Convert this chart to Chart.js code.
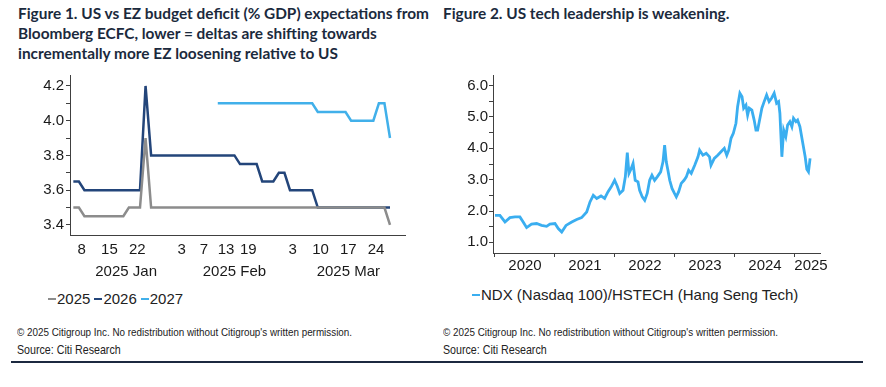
<!DOCTYPE html>
<html>
<head>
<meta charset="utf-8">
<script src="https://cdn.jsdelivr.net/npm/chart.js@4.4.1/dist/chart.umd.min.js"></script>
<style>
body { margin: 0; width: 886px; height: 387px; background: #fff; position: relative; overflow: hidden; font-family: 'Liberation Sans', Arial, sans-serif; }
.title { position: absolute; font-family: Lato, sans-serif; font-weight: 700; font-size: 15.4px; line-height: 20px; color: #1b2a3d; white-space: nowrap; }
.box { position: absolute; }
.legend { position: absolute; font-size: 15px; line-height: 18px; color: #222; white-space: nowrap; display: flex; align-items: center; }
.legend .item { display: inline-flex; align-items: center; margin-right: 4px; }
.legend .dash { display: inline-block; width: 8px; height: 2.5px; margin-right: 1px; }
.foot { position: absolute; font-family: 'Liberation Sans', Arial, sans-serif; color: #222; white-space: nowrap; transform-origin: 0 50%; }
.copy { font-size: 11.6px; transform: scaleX(0.85); }
.src { font-size: 13px; transform: scaleX(0.82); }
.rule { position: absolute; left: 11px; top: 361px; width: 852px; height: 2px; background: #1c2940; }
</style>
</head>
<body>

<div class="title" style="left:18px; top:3px;">Figure 1. US vs EZ budget deficit (% GDP) expectations from<br>Bloomberg ECFC, lower = deltas are shifting towards<br>incrementally more EZ loosening relative to US</div>
<div class="title" style="left:443px; top:3px;">Figure 2. US tech leadership is weakening.</div>

<div class="box" style="left:0; top:60px; width:440px; height:230px;"><canvas id="budget"></canvas></div>
<div class="box" style="left:440px; top:60px; width:446px; height:220px;"><canvas id="tech"></canvas></div>

<div class="legend" id="legend1" style="left:48px; top:290px;"></div>
<div class="legend" id="legend2" style="left:472px; top:286px;"></div>

<div class="foot copy" style="left:17px; top:325px;">© 2025 Citigroup Inc. No redistribution without Citigroup's written permission.</div>
<div class="foot src" style="left:17px; top:342px;">Source: Citi Research</div>
<div class="foot copy" style="left:443px; top:325px;">© 2025 Citigroup Inc. No redistribution without Citigroup's written permission.</div>
<div class="foot src" style="left:443px; top:342px;">Source: Citi Research</div>
<div class="rule"></div>

<script>
// Figure 1 data - business days, Bloomberg ECFC deficit expectations
const leftDates = [
  '2025-01-07','2025-01-08','2025-01-09','2025-01-10','2025-01-13','2025-01-14','2025-01-15','2025-01-16','2025-01-17','2025-01-20',
  '2025-01-21','2025-01-22','2025-01-23','2025-01-24','2025-01-27','2025-01-28','2025-01-29','2025-01-30','2025-01-31',
  '2025-02-03','2025-02-04','2025-02-05','2025-02-06','2025-02-07','2025-02-10','2025-02-11','2025-02-12','2025-02-13','2025-02-14',
  '2025-02-17','2025-02-18','2025-02-19','2025-02-20','2025-02-21','2025-02-24','2025-02-25','2025-02-26','2025-02-27','2025-02-28',
  '2025-03-03','2025-03-04','2025-03-05','2025-03-06','2025-03-07','2025-03-10','2025-03-11','2025-03-12','2025-03-13','2025-03-14',
  '2025-03-17','2025-03-18','2025-03-19','2025-03-20','2025-03-21','2025-03-24','2025-03-25','2025-03-26','2025-03-27','2025-03-28','2025-03-31'
];
const s2025 = [
  3.5, 3.5, 3.45, 3.45, 3.45, 3.45, 3.45, 3.45, 3.45, 3.45,
  3.5, 3.5, 3.5, 3.9, 3.5, 3.5, 3.5, 3.5, 3.5,
  3.5, 3.5, 3.5, 3.5, 3.5, 3.5, 3.5, 3.5, 3.5, 3.5,
  3.5, 3.5, 3.5, 3.5, 3.5, 3.5, 3.5, 3.5, 3.5, 3.5,
  3.5, 3.5, 3.5, 3.5, 3.5, 3.5, 3.5, 3.5, 3.5, 3.5,
  3.5, 3.5, 3.5, 3.5, 3.5, 3.5, 3.5, 3.5, 3.4
];
const s2026 = [
  3.65, 3.65, 3.6, 3.6, 3.6, 3.6, 3.6, 3.6, 3.6, 3.6,
  3.6, 3.6, 3.6, 4.2, 3.8, 3.8, 3.8, 3.8, 3.8,
  3.8, 3.8, 3.8, 3.8, 3.8, 3.8, 3.8, 3.8, 3.8, 3.8,
  3.8, 3.75, 3.75, 3.75, 3.75, 3.65, 3.65, 3.65, 3.7, 3.7,
  3.6, 3.6, 3.6, 3.6, 3.6, 3.5, 3.5, 3.5, 3.5, 3.5,
  3.5, 3.5, 3.5, 3.5, 3.5, 3.5, 3.5, 3.5, 3.5
];
const s2027 = [
  null, null, null, null, null, null, null, null, null, null,
  null, null, null, null, null, null, null, null, null,
  null, null, null, null, null, null, null, 4.1, 4.1, 4.1,
  4.1, 4.1, 4.1, 4.1, 4.1, 4.1, 4.1, 4.1, 4.1, 4.1,
  4.1, 4.1, 4.1, 4.1, 4.1, 4.05, 4.05, 4.05, 4.05, 4.05,
  4.05, 4.0, 4.0, 4.0, 4.0, 4.0, 4.1, 4.1, 3.9
];
const leftTickDates = ['2025-01-08','2025-01-15','2025-01-22','2025-02-03','2025-02-07','2025-02-13','2025-02-19','2025-03-03','2025-03-10','2025-03-17','2025-03-24'];
const leftMonths = ['2025 Jan', '2025 Feb', '2025 Mar'];
const leftYTicks = [3.4, 3.5, 3.6, 3.7, 3.8, 3.9, 4.0, 4.1, 4.2];
const leftYLabels = ['3.4', '3.6', '3.8', '4.0', '4.2'];

// Figure 2 data - NDX / HSTECH ratio
const ndxDates = [
  '2020-01-01','2020-01-31','2020-03-02','2020-04-01','2020-05-02','2020-06-01','2020-06-21','2020-07-12','2020-08-11','2020-09-11',
  '2020-10-11','2020-11-11','2020-12-01','2021-01-01','2021-01-21','2021-02-11','2021-03-09','2021-04-13','2021-05-13','2021-06-12',
  '2021-07-13','2021-08-02','2021-08-22','2021-09-12','2021-10-08','2021-10-30','2021-11-19','2021-12-09','2021-12-30','2022-01-15',
  '2022-01-30','2022-02-19','2022-03-05','2022-03-17','2022-03-27','2022-04-10','2022-04-21','2022-05-04','2022-05-21','2022-05-31',
  '2022-06-16','2022-07-01','2022-07-16','2022-07-31','2022-08-14','2022-08-30','2022-09-15','2022-10-06','2022-10-20','2022-10-30',
  '2022-11-09','2022-11-19','2022-11-30','2022-12-14','2022-12-29','2023-01-09','2023-01-23','2023-02-08','2023-02-25','2023-03-11',
  '2023-03-25','2023-04-10','2023-05-01','2023-05-21','2023-05-31','2023-06-20','2023-07-10','2023-07-30','2023-08-08','2023-08-28',
  '2023-09-18','2023-10-08','2023-10-28','2023-11-12','2023-11-24','2023-12-08','2023-12-22','2024-01-07','2024-01-17','2024-01-31',
  '2024-02-13','2024-02-23','2024-03-08','2024-03-18','2024-03-28','2024-04-13','2024-04-27','2024-05-08','2024-05-18','2024-05-28',
  '2024-06-13','2024-06-27','2024-07-12','2024-07-27','2024-08-11','2024-08-27','2024-09-11','2024-09-23','2024-10-01','2024-10-13',
  '2024-10-24','2024-11-06','2024-11-17','2024-12-01','2024-12-13','2024-12-23','2025-01-07','2025-01-17','2025-01-31','2025-02-16',
  '2025-03-04','2025-03-14','2025-03-24','2025-04-03'
];
const ndxRatio = [
  1.86, 1.86, 1.65, 1.79, 1.81, 1.81, 1.65, 1.47, 1.58, 1.60,
  1.54, 1.51, 1.58, 1.60, 1.44, 1.33, 1.54, 1.65, 1.73, 1.79,
  1.97, 2.29, 2.50, 2.40, 2.48, 2.40, 2.61, 2.77, 2.98, 2.79,
  2.56, 2.66, 3.09, 3.86, 3.20, 3.36, 3.52, 2.98, 2.93, 2.66,
  2.45, 2.34, 2.56, 2.98, 3.14, 2.98, 3.09, 3.25, 3.57, 4.10,
  3.57, 3.30, 2.98, 2.72, 2.56, 2.45, 2.61, 2.88, 2.98, 3.09,
  3.30, 3.20, 3.46, 3.73, 3.94, 3.78, 3.84, 3.73, 3.46, 3.68,
  3.78, 3.89, 4.00, 3.78, 3.94, 4.32, 4.48, 4.80, 5.33, 5.76,
  5.65, 5.28, 5.38, 5.06, 5.28, 5.22, 4.90, 4.58, 4.58, 4.85,
  5.28, 5.49, 5.70, 5.49, 5.60, 5.76, 5.44, 5.49, 5.12, 3.73,
  4.58, 4.37, 4.74, 4.85, 4.69, 4.96, 4.85, 4.90, 4.69, 4.21,
  3.73, 3.33, 3.25, 3.68
];
const rightYears = ['2020', '2021', '2022', '2023', '2024', '2025'];
const rightYTicks = [1.0, 1.5, 2.0, 2.5, 3.0, 3.5, 4.0, 4.5, 5.0, 5.5, 6.0];
const rightYLabels = ['1.0', '2.0', '3.0', '4.0', '5.0', '6.0'];

const axisColor = '#404040';
const labelColor = '#1a1a1a';
const tickFont = { family: "'Liberation Sans', Arial, sans-serif", size: 15 };
const c2025 = '#8c8c8c', c2026 = '#23457a', c2027 = '#41b0ea', cNdx = '#3aaef0';

function toPoints(values) {
  let pts = [];
  values.forEach((v, i) => pts.push({ x: i, y: v }));
  return pts;
}

function yearFrac(s) {
  let d = new Date(s + 'T00:00:00Z');
  let y = d.getUTCFullYear();
  let a = Date.UTC(y, 0, 1), b = Date.UTC(y + 1, 0, 1);
  return y + (d.getTime() - a) / (b - a);
}

// month labels sit under the middle of each month's days
const monthPos = leftMonths.map(m => {
  let mm = { Jan: '01', Feb: '02', Mar: '03' }[m.split(' ')[1]];
  let idx = [];
  leftDates.forEach((d, i) => { if (d.slice(5, 7) === mm) idx.push(i) });
  return idx.reduce((a, b) => a + b, 0) / idx.length + 0.5;
});

const leftMin = -0.6, leftMax = 59.7;

new Chart(document.getElementById('budget'), {
  type: 'line',
  data: {
    datasets: [
      { label: '2025', data: toPoints(s2025), borderColor: c2025, backgroundColor: c2025, borderWidth: 2.5 },
      { label: '2026', data: toPoints(s2026), borderColor: c2026, backgroundColor: c2026, borderWidth: 2.5 },
      { label: '2027', data: toPoints(s2027), borderColor: c2027, backgroundColor: c2027, borderWidth: 2.5 }
    ]
  },
  options: {
    responsive: true,
    maintainAspectRatio: false,
    animation: false,
    layout: { padding: { top: 15, right: 35, left: 0, bottom: 0 } },
    plugins: { legend: { display: false }, tooltip: { enabled: false } },
    elements: { point: { radius: 0 }, line: { tension: 0 } },
    scales: {
      x: {
        type: 'linear', position: 'bottom', min: leftMin, max: leftMax,
        afterBuildTicks: s => { s.ticks = leftTickDates.map(d => ({ value: leftDates.indexOf(d) + 0.5 })) },
        afterFit: s => { s.height = 20 },
        ticks: {
          autoSkip: false, maxRotation: 0, padding: 6, color: labelColor, font: tickFont,
          callback: v => String(parseInt(leftDates[Math.floor(v)].slice(8), 10))
        },
        grid: { display: false, drawTicks: false },
        border: { display: true, color: axisColor, width: 1 }
      },
      month: {
        type: 'linear', axis: 'x', position: 'bottom', weight: 1, min: leftMin, max: leftMax,
        afterBuildTicks: s => { s.ticks = monthPos.map(p => ({ value: p })) },
        afterFit: s => { s.height = 35 },
        ticks: {
          autoSkip: false, maxRotation: 0, padding: 8, color: labelColor, font: tickFont,
          callback: v => leftMonths[monthPos.indexOf(v)]
        },
        grid: { display: false, drawTicks: false },
        border: { display: false }
      },
      y: {
        min: 3.342, max: 4.263,
        afterBuildTicks: s => { s.ticks = leftYTicks.map(v => ({ value: v })) },
        afterFit: s => { s.width = 70 },
        ticks: {
          autoSkip: false, padding: 2, color: labelColor, font: tickFont,
          callback: v => leftYLabels.includes(v.toFixed(1)) ? v.toFixed(1) : ''
        },
        grid: { drawOnChartArea: false, drawTicks: true, tickLength: 4, color: axisColor },
        border: { display: true, color: axisColor, width: 1 }
      }
    }
  }
});

// right chart: years as decimal on a linear axis
const ndxPoints = ndxDates.map((d, i) => ({ x: yearFrac(d), y: ndxRatio[i] }));
const rightMin = 2019.967, rightMax = 2025.417;
let yearTicks = [];
rightYears.forEach(y => {
  let n = parseInt(y, 10);
  yearTicks.push({ value: n });
  yearTicks.push({ value: Math.min(n + 0.5, rightMax - 0.15), label: y });
});

new Chart(document.getElementById('tech'), {
  type: 'line',
  data: {
    datasets: [
      { label: 'NDX (Nasdaq 100)/HSTECH (Hang Seng Tech)', data: ndxPoints, borderColor: cNdx, backgroundColor: cNdx, borderWidth: 2.8 }
    ]
  },
  options: {
    responsive: true,
    maintainAspectRatio: false,
    animation: false,
    layout: { padding: { top: 15, right: 66, left: 0, bottom: 0 } },
    plugins: { legend: { display: false }, tooltip: { enabled: false } },
    elements: { point: { radius: 0 }, line: { tension: 0 } },
    scales: {
      x: {
        type: 'linear', min: rightMin, max: rightMax,
        afterBuildTicks: s => { s.ticks = yearTicks.map(t => ({ value: t.value })) },
        afterFit: s => { s.height = 27 },
        ticks: {
          autoSkip: false, maxRotation: 0, padding: 0, color: labelColor, font: tickFont,
          callback: (v, i) => yearTicks[i].label || ''
        },
        grid: {
          drawOnChartArea: false, drawTicks: true, tickLength: 4,
          tickColor: ctx => (ctx.tick && Number.isInteger(ctx.tick.value)) ? axisColor : 'rgba(0,0,0,0)'
        },
        border: { display: true, color: axisColor, width: 1 }
      },
      y: {
        min: 0.66, max: 6.34,
        afterBuildTicks: s => { s.ticks = rightYTicks.map(v => ({ value: v })) },
        afterFit: s => { s.width = 53 },
        ticks: {
          autoSkip: false, padding: 1, color: labelColor, font: tickFont,
          callback: v => rightYLabels.includes(v.toFixed(1)) ? v.toFixed(1) : ''
        },
        grid: { drawOnChartArea: false, drawTicks: true, tickLength: 4, color: axisColor },
        border: { display: true, color: axisColor, width: 1 }
      }
    }
  }
});

// legends
function makeLegend(el, items) {
  items.forEach(it => {
    let span = document.createElement('span');
    span.className = 'item';
    span.innerHTML = '<span class="dash" style="background:' + it.color + '"></span>' + it.label;
    el.appendChild(span);
  });
}
makeLegend(document.getElementById('legend1'), [
  { label: '2025', color: c2025 }, { label: '2026', color: c2026 }, { label: '2027', color: c2027 }
]);
makeLegend(document.getElementById('legend2'), [
  { label: 'NDX (Nasdaq 100)/HSTECH (Hang Seng Tech)', color: cNdx }
]);
</script>
</body>
</html>
